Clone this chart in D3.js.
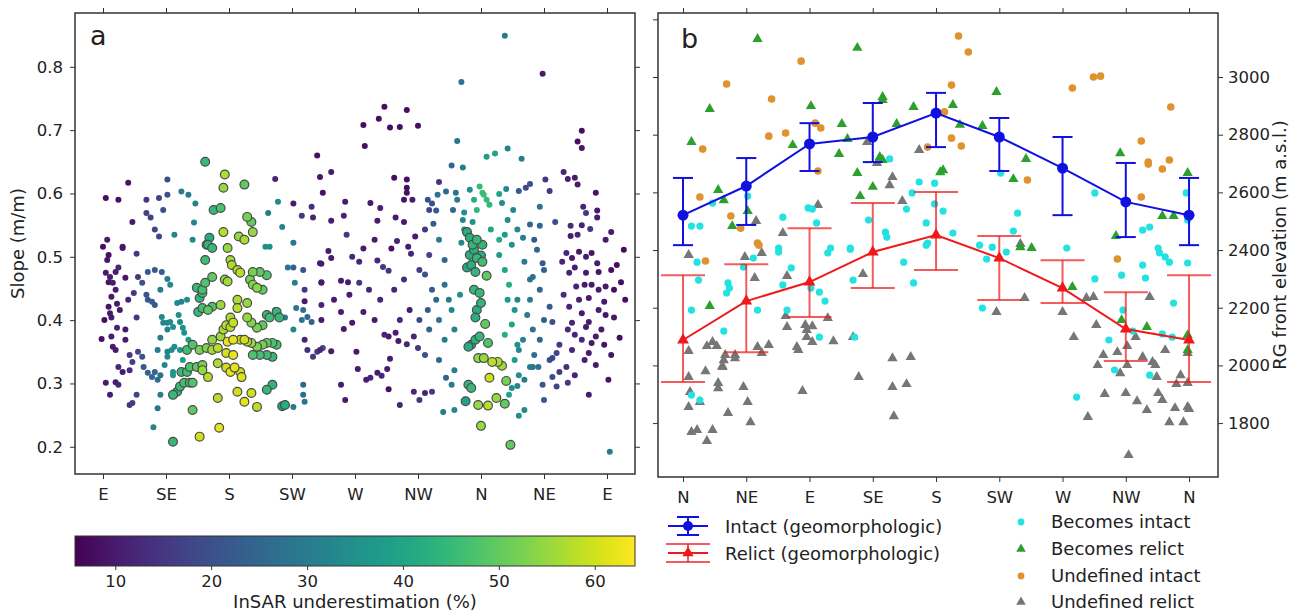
<!DOCTYPE html>
<html>
<head>
<meta charset="utf-8">
<script src="https://cdn.jsdelivr.net/npm/d3@7"></script>
<style>
  body { margin: 0; background: #fff; }
  svg text { font-family: "DejaVu Sans", sans-serif; fill: #222; }
</style>
</head>
<body>
<svg id="fig" width="1299" height="614"></svg>
<script>
// ---------- Panel a: slope vs aspect, coloured by InSAR underestimation ----------
const aspectTicksA = [90, 135, 180, 225, 270, 315, 360, 405, 450];
const aspectLabelsA = ["E", "SE", "S", "SW", "W", "NW", "N", "NE", "E"];
const slopeTicks = [0.2, 0.3, 0.4, 0.5, 0.6, 0.7, 0.8];
const underestTicks = [10, 20, 30, 40, 50, 60];

// [aspect (deg), slope (m/m), underestimation (%)]
const slopeSmall = [
  [92,0.593,8],[101,0.590,8],[108,0.617,9],[121,0.590,15],[130,0.593,18],[136,0.598,20],[136,0.622,19],
  [133,0.574,20],[121,0.569,17],[124,0.562,17],[146,0.603,30],[151,0.598,30],[156,0.584,32],[155,0.554,33],
  [141,0.535,32],[111,0.555,10],[127,0.543,18],[130,0.532,18],[213,0.623,12],[215,0.587,33],[208,0.569,30],
  [218,0.547,32],[226,0.584,10],[232,0.565,15],[239,0.579,14],[240,0.562,12],[243,0.660,8],[245,0.626,9],
  [247,0.601,8],[226,0.522,28],[154,0.527,33],[206,0.516,35],[209,0.516,35],[93,0.527,10],[104,0.516,10],
  [90,0.516,8],[104,0.514,9],[114,0.505,15],[93,0.495,9],[92,0.475,10],[95,0.468,10],[99,0.476,11],[101,0.483,12],
  [94,0.460,9],[97,0.459,10],[106,0.467,9],[115,0.468,16],[122,0.476,22],[127,0.479,22],[132,0.476,23],
  [118,0.459,20],[121,0.440,21],[122,0.432,22],[125,0.429,23],[127,0.424,22],[136,0.465,30],[112,0.443,15],
  [96,0.437,10],[94,0.421,9],[95,0.411,10],[96,0.404,10],[100,0.426,10],[114,0.404,15],[100,0.388,12],
  [89,0.370,8],[96,0.374,10],[106,0.369,10],[97,0.358,10],[99,0.353,10],[109,0.345,16],[111,0.334,17],
  [115,0.350,18],[118,0.342,20],[101,0.326,12],[104,0.318,10],[109,0.321,14],[119,0.326,22],[122,0.317,24],
  [125,0.310,25],[127,0.318,25],[129,0.306,26],[131,0.313,27],[92,0.301,10],[99,0.302,10],[101,0.298,12],
  [95,0.282,10],[114,0.282,18],[109,0.266,15],[111,0.269,16],[129,0.261,28],[126,0.231,32],
  [94,0.503,8],[99,0.448,10],[102,0.416,10],[91,0.400,8],[106,0.385,10],[108,0.432,12],
  [132,0.405,33],[136,0.396,32],[138,0.397,34],[140,0.389,35],[145,0.397,33],[147,0.388,35],[148,0.380,36],
  [143,0.427,33],[146,0.429,32],[150,0.432,34],[139,0.353,35],[141,0.358,34],[136,0.342,33],[136,0.350,32],
  [145,0.353,36],[140,0.318,36],[140,0.313,37],[136,0.385,31],[131,0.372,30],[133,0.396,32],
  [131,0.448,30],[138,0.456,33],[144,0.408,35],[129,0.353,30],[134,0.329,33],[151,0.369,38],[147,0.337,38],
  [131,0.282,30],
  [226,0.263,30],[220,0.404,30],[226,0.385,33],[232,0.400,28],[236,0.405,26],[239,0.397,24],[233,0.416,27],
  [228,0.419,28],[213,0.416,30],[227,0.459,30],[233,0.479,20],[226,0.483,24],[222,0.483,28],[234,0.448,15],
  [234,0.430,10],[234,0.369,12],[236,0.353,14],[240,0.342,15],[243,0.350,16],[247,0.356,18],[233,0.298,25],
  [233,0.282,26],[234,0.271,28],[246,0.424,12],[246,0.400,10],[246,0.459,10],[245,0.490,10],
  [377,0.849,30],[346,0.776,28],[404,0.789,10],[291,0.737,8],[287,0.718,8],[307,0.732,8],[276,0.708,8],
  [295,0.704,8],[302,0.705,8],[315,0.707,8],[277,0.675,8],[343,0.683,28],[339,0.644,25],[347,0.641,30],
  [364,0.658,38],[370,0.663,40],[379,0.671,32],[389,0.655,30],[432,0.699,8],[429,0.682,8],[432,0.672,9],
  [419,0.634,12],[422,0.623,11],[427,0.625,10],[442,0.601,9],[429,0.614,10],[409,0.604,15],[406,0.622,15],
  [395,0.615,20],[392,0.609,18],[387,0.604,22],[378,0.607,33],[373,0.599,40],[359,0.611,45],[361,0.601,46],
  [364,0.590,45],[366,0.582,44],[362,0.598,46],[375,0.585,35],[383,0.574,33],
  [253,0.634,10],[263,0.587,10],[262,0.565,12],[253,0.557,10],[281,0.585,10],[288,0.577,10],[284,0.527,10],
  [264,0.535,15],[286,0.557,10],[299,0.562,10],[298,0.625,8],[307,0.622,8],[307,0.609,8],[307,0.601,8],
  [305,0.590,9],[305,0.555,10],[311,0.590,10],[313,0.532,10],[300,0.525,12],[330,0.618,15],[329,0.598,28],
  [335,0.603,26],[342,0.601,28],[343,0.590,30],[340,0.574,25],[325,0.584,20],[323,0.574,18],[320,0.543,15],
  [326,0.552,22],[328,0.573,22],[330,0.527,30],[348,0.570,35],[347,0.558,33],[348,0.543,35],[322,0.590,20],
  [433,0.579,12],[435,0.569,15],[443,0.573,10],[443,0.562,10],[453,0.539,10],[449,0.527,10],[438,0.544,15],
  [432,0.550,12],[424,0.549,14],[413,0.555,20],[402,0.579,28],[402,0.549,25],[424,0.533,10],[429,0.535,12],
  [352,0.606,35],[355,0.590,42],[357,0.574,44],[354,0.555,36],[346,0.522,33],[367,0.543,40],[373,0.527,42],
  [377,0.535,38],[379,0.558,35],[382,0.519,36],[386,0.543,33],[390,0.530,30],[395,0.551,25],[398,0.527,22],
  [246,0.489,10],[246,0.460,10],[251,0.509,10],[253,0.498,10],[260,0.462,10],[265,0.460,10],[268,0.500,12],
  [273,0.492,12],[276,0.513,10],[273,0.459,15],[286,0.494,12],[290,0.484,15],[294,0.478,15],[296,0.513,8],
  [308,0.516,10],[310,0.505,12],[260,0.413,10],[276,0.413,10],[268,0.396,10],[262,0.386,10],[245,0.353,12],
  [253,0.351,10],[271,0.350,10],[295,0.339,10],[294,0.374,10],[301,0.367,10],[299,0.380,10],[307,0.362,12],
  [309,0.416,10],[312,0.374,12],[315,0.356,15],[260,0.298,10],[272,0.323,10],[278,0.306,10],[281,0.309,12],
  [286,0.317,10],[289,0.312,12],[293,0.323,10],[294,0.291,8],[312,0.287,12],[320,0.285,12],[325,0.287,15],
  [335,0.309,25],[339,0.298,30],[333,0.255,30],
  [255,0.432,10],[266,0.440,10],[280,0.448,12],[288,0.432,12],[298,0.448,12],[305,0.464,14],[316,0.479,16],
  [323,0.503,18],[334,0.495,25],[284,0.400,10],[291,0.377,12],[302,0.400,12],[320,0.345,20],[330,0.337,25],
  [341,0.321,32],[263,0.274,10],[302,0.266,12],[316,0.274,15],[341,0.258,33],
  [320,0.472,20],[325,0.448,22],[328,0.432,25],[334,0.456,28],[337,0.432,30],[330,0.400,28],[323,0.385,25],
  [334,0.369,30],[341,0.385,32],[339,0.416,33],[345,0.440,35],[322,0.416,22],[316,0.400,18],
  [373,0.503,38],[377,0.479,40],[380,0.456,42],[379,0.432,38],[384,0.416,36],[382,0.393,40],[377,0.377,42],
  [386,0.361,35],[384,0.337,38],[387,0.313,35],[380,0.282,40],[391,0.258,33],
  [391,0.492,30],[395,0.464,28],[405,0.479,24],[386,0.432,33],[393,0.408,30],[405,0.400,24],[398,0.345,27],
  [391,0.306,30],[405,0.274,22],[387,0.353,33],
  [400,0.511,25],[404,0.490,22],[397,0.468,28],[402,0.448,25],[395,0.432,30],[409,0.421,22],[411,0.397,20],
  [397,0.385,28],[390,0.369,32],[402,0.369,25],[414,0.348,18],[409,0.337,20],[411,0.310,20],[414,0.295,18],
  [404,0.298,22],[422,0.301,15],[397,0.326,28],[421,0.506,12],[425,0.498,10],[430,0.508,10],[435,0.500,10],
  [439,0.506,9],[443,0.490,10],[423,0.475,12],[435,0.475,10],[444,0.476,9],[449,0.453,10],[428,0.453,12],
  [437,0.435,10],[448,0.429,10],[423,0.421,12],[432,0.411,10],[444,0.416,10],[425,0.396,12],[435,0.389,10],
  [446,0.385,10],[442,0.374,10],[432,0.369,12],[439,0.364,10],[425,0.353,12],[437,0.348,10],[421,0.326,14],
  [442,0.329,10],[411,0.340,18],[434,0.456,10],
  [418,0.492,12],[427,0.483,11],[439,0.456,10],[430,0.432,11],[419,0.440,13],[453,0.479,8],[449,0.408,9],
  [437,0.397,10],[427,0.377,12],[416,0.361,15],[422,0.385,13],[455,0.448,8],[444,0.448,10],[434,0.337,11],
  [427,0.313,12],[416,0.318,16],[451,0.306,9],[437,0.282,10],[448,0.361,9],
  [457,0.487,8],[460,0.460,8],[463,0.432,8],[455,0.404,9],[459,0.372,8],[453,0.345,9],[462,0.511,8],
  [387,0.249,35],[382,0.293,35],[386,0.296,33],[395,0.326,30],[401,0.326,28],[452,0.192,30]
];

// Larger outlined markers: [aspect (deg), slope (m/m), underestimation (%)]
const slopeRing = [
  [163,0.650,45],[177,0.630,57],[176,0.609,55],[191,0.614,50],[169,0.574,45],[174,0.577,48],[176,0.539,58],
  [193,0.563,52],[196,0.555,50],[197,0.539,55],[187,0.532,55],[191,0.527,57],[166,0.530,42],[164,0.519,44],
  [157,0.451,45],[161,0.448,47],[161,0.443,46],[159,0.435,44],[163,0.459,48],[168,0.468,50],[163,0.495,46],
  [165,0.519,44],[168,0.514,45],[179,0.514,55],[181,0.495,56],[182,0.487,57],[186,0.479,58],[188,0.475,58],
  [177,0.464,55],[179,0.461,56],[168,0.421,48],[161,0.419,47],[165,0.416,50],[158,0.413,45],[174,0.424,55],
  [186,0.432,57],[186,0.419,58],[193,0.427,55],[195,0.464,52],[197,0.456,53],[200,0.451,54],[204,0.448,50],
  [207,0.471,48],[202,0.476,50],[197,0.476,52],[207,0.408,45],[209,0.404,46],[214,0.413,44],[216,0.404,45],
  [204,0.392,50],[200,0.388,52],[196,0.396,53],[193,0.404,55],[181,0.404,57],[178,0.392,58],[176,0.385,57],
  [181,0.389,58],[183,0.396,59],[174,0.374,56],[168,0.369,55],[164,0.356,53],[159,0.353,52],[154,0.361,48],
  [150,0.353,46],[152,0.326,48],[150,0.318,46],[146,0.318,45],[157,0.326,50],[161,0.329,52],[161,0.321,55],
  [165,0.310,58],[168,0.353,56],[172,0.356,58],[179,0.366,62],[183,0.369,62],[188,0.369,60],[191,0.369,60],
  [193,0.366,58],[196,0.364,55],[200,0.358,53],[204,0.361,52],[207,0.364,50],[211,0.364,48],[214,0.361,47],
  [197,0.345,48],[202,0.345,47],[207,0.345,46],[211,0.342,45],[178,0.348,60],[183,0.345,62],[172,0.332,57],
  [178,0.325,60],[181,0.318,62],[184,0.325,62],[188,0.318,60],[189,0.310,61],[186,0.287,60],[191,0.271,62],
  [196,0.285,60],[200,0.263,58],[211,0.298,44],[207,0.290,45],[172,0.277,58],[154,0.258,50],[140,0.208,45],
  [159,0.216,60],[173,0.230,62],[143,0.287,44],[140,0.282,45],[145,0.295,45],[148,0.301,47],[152,0.301,47],
  [154,0.301,48],[218,0.264,40],[220,0.266,42],
  [350,0.539,42],[352,0.530,43],[354,0.519,44],[357,0.527,45],[361,0.519,44],[355,0.511,43],[352,0.503,42],
  [357,0.498,45],[361,0.492,46],[353,0.487,42],[350,0.483,41],[356,0.476,44],
  [360,0.502,42],[364,0.470,50],[355,0.448,45],[359,0.443,45],[360,0.427,44],[357,0.416,42],[356,0.404,42],
  [363,0.394,50],[359,0.374,45],[356,0.369,43],[353,0.361,42],[351,0.358,42],[365,0.364,48],[358,0.340,55],
  [362,0.340,55],[368,0.334,58],[372,0.334,57],[375,0.328,56],[366,0.309,60],[378,0.304,52],[351,0.298,45],
  [353,0.293,45],[349,0.272,40],[358,0.266,55],[365,0.265,58],[371,0.277,55],[377,0.268,50],[360,0.233,55],
  [381,0.203,50]
];

// ---------- Panel b: rock glacier front elevation vs aspect ----------
const aspectTicksB = [0, 45, 90, 135, 180, 225, 270, 315, 360];
const aspectLabelsB = ["N", "NE", "E", "SE", "S", "SW", "W", "NW", "N"];
const elevTicks = [1800, 2000, 2200, 2400, 2600, 2800, 3000];
const elevTicksLeft = [1800, 2000, 2200, 2400, 2600, 2800, 3000, 3200];

const intactMean = [2521, 2622, 2768, 2792, 2875, 2792, 2684, 2567, 2521];
const intactLow  = [2417, 2487, 2674, 2705, 2757, 2674, 2521, 2445, 2417];
const intactHigh = [2650, 2719, 2840, 2910, 2945, 2858, 2792, 2702, 2650];
const relictMean = [2088, 2223, 2289, 2393, 2452, 2372, 2268, 2126, 2088];
const relictLow  = [1942, 2046, 2168, 2268, 2331, 2227, 2216, 2015, 1942];
const relictHigh = [2313, 2351, 2476, 2563, 2601, 2449, 2365, 2254, 2313];

// [aspect (deg), front elevation (m a.s.l.)]
const becomesIntact = [
  [6,2483],[12,2483],[21,2563],[46,2587],[71,2514],[89,2546],[92,2542],[95,2494],[132,2504],[144,2462],
  [145,2445],[147,2716],[168,2636],[179,2632],[163,2598],[159,2542],[173,2494],[179,2560],[185,2535],
  [192,2459],[174,2424],[119,2407],[105,2407],[68,2407],[226,2667],[293,2598],[238,2528],[235,2466],
  [358,2598],[359,2504],[327,2469],[332,2480],[273,2407],[211,2417],[220,2410],[338,2407],[10,2358],
  [43,2341],[50,2372],[68,2393],[103,2390],[119,2403],[157,2358],[164,2286],[121,2296],[11,2296],[32,2286],
  [33,2268],[31,2251],[6,2192],[29,2119],[53,2192],[74,2192],[71,2279],[77,2338],[91,2268],[97,2254],
  [101,2223],[97,2098],[122,2098],[12,1880],[6,1897],[173,2417],[230,2393],[216,2369],[339,2390],[343,2376],
  [346,2358],[327,2348],[312,2313],[329,2303],[293,2300],[359,2355],[213,2199],[349,2216],[313,2192],
  [320,2119],[341,2109],[348,2098],[303,2088],[307,1984],[332,1966],[280,1890]
];
const becomesRelict = [
  [53,3132],[124,3101],[19,2889],[6,2775],[91,2899],[113,2837],[78,2764],[111,2733],[117,2785],[142,2931],
  [142,2920],[164,2896],[152,2837],[192,2903],[197,2834],[124,2667],[135,2619],[126,2587],[183,2670],
  [185,2677],[25,2608],[29,2573],[46,2535],[35,2483],[140,2723],[142,2712],[223,2948],[213,2830],[244,2716],
  [235,2646],[311,2736],[359,2667],[341,2518],[349,2518],[308,2449],[248,2407],[240,2410],[19,2206],
  [277,2272],[312,2157],[330,2133],[359,2105],[359,2053]
];
const undefinedIntact = [
  [84,3055],[31,2976],[63,2924],[61,2795],[73,2806],[14,2750],[94,2840],[98,2823],[96,2674],[12,2584],
  [34,2518],[41,2476],[196,3142],[203,3087],[191,2972],[191,2788],[198,2761],[174,2757],[53,2424],[186,2879],
  [277,2962],[292,3000],[297,3003],[347,2896],[326,2778],[331,2705],[331,2698],[341,2681],[346,2712],
  [245,2643],[326,2584],[16,2362],[54,2417],[309,2369]
];
const undefinedRelict = [
  [96,2556],[52,2501],[71,2459],[149,2653],[147,2625],[168,2747],[156,2570],[131,2775],[138,2702],[240,2421],
  [4,2383],[44,2376],[56,2390],[51,2303],[74,2310],[128,2317],[73,2171],[74,2133],[87,2140],[88,2123],
  [92,2136],[88,2098],[92,2081],[103,2164],[107,2084],[121,2098],[4,2050],[17,2067],[21,2081],[24,2067],
  [30,2036],[29,2018],[37,2036],[37,2025],[53,2064],[56,2043],[61,2071],[81,2064],[82,2053],[28,1994],
  [28,1998],[16,1980],[4,1960],[25,1939],[25,1921],[43,1925],[85,1911],[125,1960],[149,2025],[162,2029],
  [149,1925],[159,1935],[5,1908],[4,1856],[12,1873],[46,1873],[32,1835],[48,1803],[150,1824],[6,1769],
  [10,1776],[21,1776],[17,1738],[223,2185],[243,2234],[270,2185],[287,2234],[292,2237],[278,2098],
  [294,2140],[332,2237],[322,2098],[299,2036],[295,2001],[309,2046],[316,2067],[327,2029],[334,2012],
  [336,2001],[311,1973],[316,2001],[337,1960],[343,2053],[354,1966],[351,1935],[359,1939],[300,1901],
  [315,1904],[323,1876],[330,1845],[338,1904],[341,1880],[350,1852],[359,1856],[360,1849],[346,1803],
  [356,1803],[288,1821],[317,1689],[359,2043]
];

// ---------- drawing ----------
const svg = d3.select("#fig");
const FRAME = "#333";
const TICK_FONT = "16.5px";
const LABEL_FONT = "18px";

const xA = d3.scaleLinear().domain([70, 470]).range([75, 635]);
const yA = d3.scaleLinear().domain([0.157, 0.885]).range([474, 13]);
const colorA = d3.scaleSequential(d3.interpolateViridis).domain([5.8, 64.2]);

const xB = d3.scaleLinear().domain([-17.8, 380.6]).range([658, 1218]);
const yB = d3.scaleLinear().domain([1613, 3222]).range([477, 13]);

function styleAxis(g, showText) {
  g.select(".domain").remove();
  g.selectAll(".tick line").attr("stroke", FRAME).attr("stroke-width", 1);
  g.selectAll(".tick text").style("font-size", TICK_FONT).attr("fill", "#222");
  if (!showText) g.selectAll(".tick text").remove();
}

// Panel a axes
svg.append("g").attr("transform", "translate(0,474)")
  .call(d3.axisBottom(xA).tickValues(aspectTicksA).tickFormat((d, i) => aspectLabelsA[i]).tickSize(5).tickPadding(9))
  .call(g => styleAxis(g, true));
svg.append("g").attr("transform", "translate(0,13)")
  .call(d3.axisTop(xA).tickValues(aspectTicksA).tickSize(5))
  .call(g => styleAxis(g, false));
svg.append("g").attr("transform", "translate(75,0)")
  .call(d3.axisLeft(yA).tickValues(slopeTicks).tickFormat(d3.format(".1f")).tickSize(5).tickPadding(7))
  .call(g => styleAxis(g, true));
svg.append("g").attr("transform", "translate(635,0)")
  .call(d3.axisRight(yA).tickValues(slopeTicks).tickSize(5))
  .call(g => styleAxis(g, false));

const clipA = svg.append("clipPath").attr("id", "clipA");
clipA.append("rect").attr("x", 75).attr("y", 13).attr("width", 560).attr("height", 461);

const gA = svg.append("g").attr("clip-path", "url(#clipA)");
gA.selectAll("circle.small").data(slopeSmall).join("circle")
  .attr("class", "small")
  .attr("cx", d => xA(d[0])).attr("cy", d => yA(d[1])).attr("r", 3)
  .attr("fill", d => colorA(d[2]));
gA.selectAll("circle.ring").data(slopeRing.slice().sort((a, b) => a[2] - b[2])).join("circle")
  .attr("class", "ring")
  .attr("cx", d => xA(d[0])).attr("cy", d => yA(d[1])).attr("r", 4.4)
  .attr("fill", d => colorA(d[2]))
  .attr("stroke", "#4a4a4a").attr("stroke-width", 1.2);

svg.append("rect").attr("x", 75).attr("y", 13).attr("width", 560).attr("height", 461)
  .attr("fill", "none").attr("stroke", FRAME).attr("stroke-width", 1.5);

svg.append("text").attr("x", 90).attr("y", 45).style("font-size", "27px").text("a");
svg.append("text")
  .attr("transform", "translate(24,243.5) rotate(-90)")
  .attr("text-anchor", "middle").style("font-size", LABEL_FONT).text("Slope (m/m)");

// Colour bar
const cbX = d3.scaleLinear().domain([5.8, 64.2]).range([75, 635]);
const grad = svg.append("defs").append("linearGradient").attr("id", "viridisGrad")
  .attr("x1", "0%").attr("x2", "100%").attr("y1", "0%").attr("y2", "0%");
d3.range(0, 1.0001, 0.05).forEach(t => {
  grad.append("stop").attr("offset", (t * 100) + "%").attr("stop-color", d3.interpolateViridis(t));
});
svg.append("rect").attr("x", 75).attr("y", 536).attr("width", 560).attr("height", 30)
  .attr("fill", "url(#viridisGrad)").attr("stroke", FRAME).attr("stroke-width", 1);
svg.append("g").attr("transform", "translate(0,566)")
  .call(d3.axisBottom(cbX).tickValues(underestTicks).tickSize(4).tickPadding(5))
  .call(g => styleAxis(g, true));
svg.append("text").attr("x", 355).attr("y", 608).attr("text-anchor", "middle")
  .style("font-size", LABEL_FONT).text("InSAR underestimation (%)");

// Panel b axes
svg.append("g").attr("transform", "translate(0,477)")
  .call(d3.axisBottom(xB).tickValues(aspectTicksB).tickFormat((d, i) => aspectLabelsB[i]).tickSize(5).tickPadding(9))
  .call(g => styleAxis(g, true));
svg.append("g").attr("transform", "translate(0,13)")
  .call(d3.axisTop(xB).tickValues(aspectTicksB).tickSize(5))
  .call(g => styleAxis(g, false));
svg.append("g").attr("transform", "translate(1218,0)")
  .call(d3.axisRight(yB).tickValues(elevTicks).tickFormat(d3.format("d")).tickSize(5).tickPadding(5))
  .call(g => styleAxis(g, true));
svg.append("g").attr("transform", "translate(658,0)")
  .call(d3.axisLeft(yB).tickValues(elevTicksLeft).tickSize(5))
  .call(g => styleAxis(g, false));

const clipB = svg.append("clipPath").attr("id", "clipB");
clipB.append("rect").attr("x", 658).attr("y", 13).attr("width", 560).attr("height", 464);
const gB = svg.append("g").attr("clip-path", "url(#clipB)");

const triangle = d3.symbol().type(d3.symbolTriangle).size(46);
const COL_BI = "#22e2e2", COL_BR = "#2ca02c", COL_UI = "#e0922f", COL_UR = "#767676";

gB.selectAll("path.ur").data(undefinedRelict).join("path").attr("class", "ur")
  .attr("d", triangle).attr("transform", d => `translate(${xB(d[0])},${yB(d[1])})`).attr("fill", COL_UR);
gB.selectAll("circle.bi").data(becomesIntact).join("circle").attr("class", "bi")
  .attr("cx", d => xB(d[0])).attr("cy", d => yB(d[1])).attr("r", 3.6).attr("fill", COL_BI);
gB.selectAll("path.br").data(becomesRelict).join("path").attr("class", "br")
  .attr("d", triangle).attr("transform", d => `translate(${xB(d[0])},${yB(d[1])})`).attr("fill", COL_BR);
gB.selectAll("circle.ui").data(undefinedIntact).join("circle").attr("class", "ui")
  .attr("cx", d => xB(d[0])).attr("cy", d => yB(d[1])).attr("r", 3.8).attr("fill", COL_UI);

// Mean ± spread for geomorphologic classes
function drawSeries(mean, low, high, color, capHalf, errOpacity, lineW, marker) {
  const g = gB.append("g");
  const idx = d3.range(mean.length);
  g.selectAll("line.err").data(idx).join("line").attr("class", "err")
    .attr("x1", i => xB(aspectTicksB[i])).attr("x2", i => xB(aspectTicksB[i]))
    .attr("y1", i => yB(low[i])).attr("y2", i => yB(high[i]))
    .attr("stroke", color).attr("stroke-width", 2).attr("opacity", errOpacity);
  [low, high].forEach(arr => {
    g.selectAll(null).data(idx).join("line")
      .attr("x1", i => xB(aspectTicksB[i]) - capHalf).attr("x2", i => xB(aspectTicksB[i]) + capHalf)
      .attr("y1", i => yB(arr[i])).attr("y2", i => yB(arr[i]))
      .attr("stroke", color).attr("stroke-width", 2).attr("opacity", errOpacity);
  });
  const line = d3.line().x(i => xB(aspectTicksB[i])).y(i => yB(mean[i]));
  g.append("path").datum(idx).attr("d", line).attr("fill", "none")
    .attr("stroke", color).attr("stroke-width", lineW);
  if (marker === "circle") {
    g.selectAll("circle.m").data(idx).join("circle").attr("class", "m")
      .attr("cx", i => xB(aspectTicksB[i])).attr("cy", i => yB(mean[i])).attr("r", 5.5).attr("fill", color);
  } else {
    const tri = d3.symbol().type(d3.symbolTriangle).size(60);
    g.selectAll("path.m").data(idx).join("path").attr("class", "m")
      .attr("d", tri).attr("transform", i => `translate(${xB(aspectTicksB[i])},${yB(mean[i])})`).attr("fill", color);
  }
}
drawSeries(relictMean, relictLow, relictHigh, "#f01818", 22, 0.7, 2, "triangle");
drawSeries(intactMean, intactLow, intactHigh, "#1010e0", 10, 1, 2, "circle");

svg.append("rect").attr("x", 658).attr("y", 13).attr("width", 560).attr("height", 464)
  .attr("fill", "none").attr("stroke", FRAME).attr("stroke-width", 1.5);

svg.append("text").attr("x", 681).attr("y", 48).style("font-size", "27px").text("b");
svg.append("text")
  .attr("transform", "translate(1286,245) rotate(-90)")
  .attr("text-anchor", "middle").style("font-size", LABEL_FONT).text("RG front elevation (m a.s.l.)");

// Legend: geomorphologic classes
const leg1 = svg.append("g");
function errLegend(cy, color, capHalf, opacity, marker, label) {
  const cx = 688;
  leg1.append("line").attr("x1", 668).attr("x2", 708).attr("y1", cy).attr("y2", cy)
    .attr("stroke", color).attr("stroke-width", 2);
  leg1.append("line").attr("x1", cx).attr("x2", cx).attr("y1", cy - 9).attr("y2", cy + 9)
    .attr("stroke", color).attr("stroke-width", 2).attr("opacity", opacity);
  [cy - 9, cy + 9].forEach(y => leg1.append("line").attr("x1", cx - capHalf).attr("x2", cx + capHalf)
    .attr("y1", y).attr("y2", y).attr("stroke", color).attr("stroke-width", 2).attr("opacity", opacity));
  if (marker === "circle") leg1.append("circle").attr("cx", cx).attr("cy", cy).attr("r", 5).attr("fill", color);
  else leg1.append("path").attr("d", d3.symbol().type(d3.symbolTriangle).size(55)())
    .attr("transform", `translate(${cx},${cy})`).attr("fill", color);
  leg1.append("text").attr("x", 725).attr("y", cy + 6.5).style("font-size", LABEL_FONT).text(label);
}
errLegend(526, "#1010e0", 11, 1, "circle", "Intact (geomorphologic)");
errLegend(553, "#f01818", 22, 0.7, "triangle", "Relict (geomorphologic)");

// Legend: transition classes
const leg2 = svg.append("g");
const legItems = [
  { label: "Becomes intact", color: COL_BI, shape: "circle", y: 522 },
  { label: "Becomes relict", color: COL_BR, shape: "triangle", y: 549 },
  { label: "Undefined intact", color: COL_UI, shape: "circle", y: 576 },
  { label: "Undefined relict", color: COL_UR, shape: "triangle", y: 602 }
];
legItems.forEach(it => {
  if (it.shape === "circle") leg2.append("circle").attr("cx", 1021).attr("cy", it.y).attr("r", 3.4).attr("fill", it.color);
  else leg2.append("path").attr("d", d3.symbol().type(d3.symbolTriangle).size(40)())
    .attr("transform", `translate(1021,${it.y})`).attr("fill", it.color);
  leg2.append("text").attr("x", 1051).attr("y", it.y + 6).style("font-size", LABEL_FONT).text(it.label);
});
</script>
</body>
</html>
